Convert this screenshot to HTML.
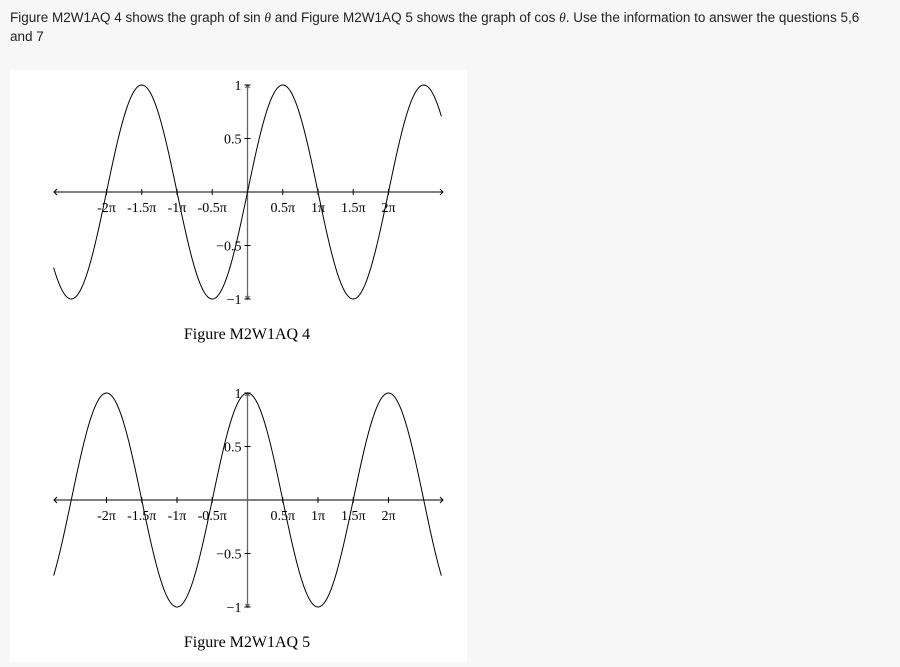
<!DOCTYPE html>
<html><head><meta charset="utf-8"><style>
body{margin:0;background:#f7f7f8;width:900px;height:667px;overflow:hidden;font-family:"Liberation Sans",sans-serif;}
#q{position:absolute;left:10px;top:8px;font-size:13.5px;line-height:19px;color:#222;width:872px}
#panel{position:absolute;left:10px;top:70px;width:457px;height:592px;background:#fff}
svg{position:absolute;left:0;top:0}
</style></head><body>
<div id="q">Figure M2W1AQ 4 shows the graph of sin <i style="font-family:'Liberation Serif',serif">θ</i> and Figure M2W1AQ 5 shows the graph of cos <i style="font-family:'Liberation Serif',serif">θ</i>. Use the information to answer the questions 5,6 and 7</div>
<div id="panel"></div>
<svg id="s" width="900" height="667"></svg>
<script>
const xTicks=[-2,-1.5,-1,-0.5,0.5,1,1.5,2];
const xTickLabels=["-2π","-1.5π","-1π","-0.5π","0.5π","1π","1.5π","2π"];
const yTicks=[1,0.5,-0.5,-1];
const yTickLabels=["1","0.5","−0.5","−1"];
const domain=[-2.75,2.75];
const captions=["Figure M2W1AQ 4","Figure M2W1AQ 5"];
const funcs=[Math.sin,Math.cos];
const NS="http://www.w3.org/2000/svg";
const s=document.getElementById('s');
function mk(t,a,p){const e=document.createElementNS(NS,t);for(const k in a)e.setAttribute(k,a[k]);(p||s).appendChild(e);return e;}
const ox=247.5,pi=70.5,unit=107;
[192,500].forEach((oy,gi)=>{
 const g=mk('g',{});
 
 
 const X=v=>ox+v*pi, Y=v=>oy-v*unit;
 const ax=mk('path',{d:`M54 ${oy}H443M57 ${oy-3}L54 ${oy}L57 ${oy+3}M440 ${oy-3}L443 ${oy}L440 ${oy+3}`,stroke:'#000','stroke-width':1,fill:'none'},g);
 
 const ay=mk('path',{d:`M${ox} ${Y(1)}V${Y(-1)}M${ox-2} ${Y(1)+3}L${ox} ${Y(1)}L${ox+2} ${Y(1)+3}M${ox-2} ${Y(-1)-3}L${ox} ${Y(-1)}L${ox+2} ${Y(-1)-3}`,stroke:'#666','stroke-width':1.3,fill:'none'},g);
 
 xTicks.forEach((t,i)=>{
  mk('line',{x1:X(t),x2:X(t),y1:oy-3,y2:oy+3,stroke:'#000'},g);
  const tx=mk('text',{x:X(t),y:oy+20,'text-anchor':'middle','font-family':'Liberation Serif,serif','font-size':14},g);
  tx.textContent=xTickLabels[i];
  
 });
 yTicks.forEach((t,i)=>{
  mk('line',{x1:ox-3,x2:ox+3,y1:Y(t),y2:Y(t),stroke:'#000'},g);
  const tx=mk('text',{x:ox-6,y:Y(t)+5,'text-anchor':'end','font-family':'Liberation Serif,serif','font-size':14},g);
  tx.textContent=yTickLabels[i];
  
 });
 let d='';
 for(let k=0;k<=400;k++){const v=domain[0]+(domain[1]-domain[0])*k/400;d+=(k?'L':'M')+X(v).toFixed(2)+' '+Y(funcs[gi](v*Math.PI)).toFixed(2);}
 const c=mk('path',{d:d,stroke:'#000','stroke-width':1,fill:'none'},g);
 
 const cap=mk('text',{x:247,y:oy+147,'text-anchor':'middle','font-family':'Liberation Serif,serif','font-size':16},g);
 cap.textContent=captions[gi];
 
});
</script>
</body></html>
